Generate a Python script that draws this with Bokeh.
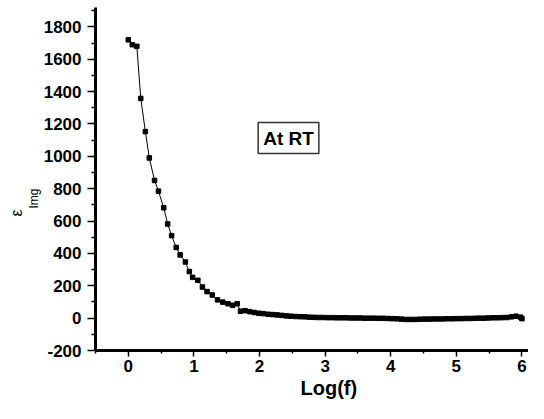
from bokeh.plotting import figure
from bokeh.models import Range1d, FixedTicker, Label, Title
from bokeh.embed import file_html
from bokeh.resources import INLINE

# data
log_f = [0.00, 0.06, 0.13, 0.19, 0.26, 0.32, 0.40, 0.46, 0.54, 0.60, 0.66, 0.73, 0.79,
         0.87, 0.93, 0.98, 1.06, 1.13, 1.20, 1.28, 1.36, 1.44, 1.52, 1.59, 1.66,
         1.71, 1.78, 1.85, 1.92, 1.99, 2.06, 2.13, 2.20, 2.27, 2.34, 2.41, 2.48, 2.55,
         2.62, 2.69, 2.76, 2.83, 2.90, 2.97, 3.04, 3.11, 3.18, 3.25, 3.32, 3.39, 3.46,
         3.53, 3.60, 3.67, 3.74, 3.81, 3.88, 3.95, 4.02, 4.09, 4.16, 4.23, 4.30, 4.37,
         4.44, 4.51, 4.58, 4.65, 4.72, 4.79, 4.86, 4.93, 5.00, 5.07, 5.14, 5.21, 5.28,
         5.35, 5.42, 5.49, 5.56, 5.63, 5.70, 5.77, 5.84, 5.91, 5.98, 6.00]
eps_img = [1720, 1690, 1680, 1358, 1153, 990, 851, 785, 682, 582, 510, 437, 391,
           347, 288, 252, 234, 192, 164, 143, 113, 99, 89, 79, 89,
           43, 46, 40, 35, 30, 28, 24, 22, 20, 17, 14, 12, 10,
           9, 8, 6, 5, 4, 4, 3, 3, 2, 2, 2, 1, 1,
           1, 0, 0, 0, -1, -1, -2, -3, -4, -6, -8, -8, -8,
           -7, -6, -6, -5, -5, -5, -4, -4, -3, -3, -2, -2, -1,
           0, 0, 1, 2, 2, 3, 4, 8, 12, 6, -3]
x_ticks = [0, 1, 2, 3, 4, 5, 6]
x_minor = [-0.5, 0.5, 1.5, 2.5, 3.5, 4.5, 5.5]
y_ticks = [-200, 0, 200, 400, 600, 800, 1000, 1200, 1400, 1600, 1800]
y_minor = [-100, 100, 300, 500, 700, 900, 1100, 1300, 1500, 1700, 1900]
annotation_text = "At RT"
x_title = "Log(f)"
y_title_main = "ε"
y_title_sub = "Img"

W, H = 528, 403
BL, BB, BT = 95, 53, 7
X0, X1 = -0.5, 6.1
Y0, Y1 = -200, 1920
FW = W - BL
FH = H - BB - BT

p = figure(width=W, height=H, output_backend="svg", toolbar_location=None,
           x_range=Range1d(X0, X1), y_range=Range1d(Y0, Y1),
           min_border_left=BL, min_border_right=0, min_border_top=BT, min_border_bottom=BB)
p.outline_line_color = None
p.xgrid.visible = False
p.ygrid.visible = False
p.background_fill_color = "white"

FONT = "Liberation Sans"

for ax, ticks, minor in ((p.xaxis[0], x_ticks, x_minor), (p.yaxis[0], y_ticks, y_minor)):
    ax.ticker = FixedTicker(ticks=ticks, minor_ticks=minor)
    ax.axis_line_width = 3
    ax.axis_line_color = "black"
    ax.major_tick_line_width = 1.5
    ax.minor_tick_line_width = 1.5
    ax.major_tick_in = 0
    ax.minor_tick_in = 0
    ax.major_label_text_font = FONT
    ax.major_label_text_font_style = "bold"
    ax.major_label_text_font_size = "17px"
    ax.major_label_text_color = "black"

p.yaxis.major_label_overrides = {-200: "-200"}
p.yaxis.major_tick_out = 8
p.yaxis.minor_tick_out = 4
p.yaxis.major_label_standoff = 6
p.xaxis.major_tick_out = 6
p.xaxis.minor_tick_out = 3
p.xaxis.major_label_standoff = 3

p.line(log_f, eps_img, line_color="black", line_width=1)
p.scatter(log_f, eps_img, marker="square", size=4.5, fill_color="black", line_color="black")


def dx(sx):
    return X0 + (sx - BL) * (X1 - X0) / FW


def dy(sy):
    return Y1 - (sy - BT) * (Y1 - Y0) / FH


p.add_layout(Label(x=dx(288), y=dy(137.5), text=annotation_text, text_align="center",
                   text_baseline="middle", text_font=FONT, text_font_style="bold",
                   text_font_size="19px", text_color="black", padding=5,
                   border_line_color="#333333", border_line_width=1.5,
                   background_fill_color="white"))

p.add_layout(Title(text=x_title, align="left", offset=205, standoff=0,
                   text_font=FONT, text_font_style="bold", text_font_size="20px",
                   text_color="black"), "below")
p.add_layout(Title(text=y_title_sub, align="left", offset=142, standoff=0,
                   text_font=FONT, text_font_style="normal", text_font_size="12px",
                   text_color="black"), "left")
p.add_layout(Title(text=y_title_main, align="left", offset=134, standoff=0,
                   text_font=FONT, text_font_style="normal", text_font_size="16px",
                   text_color="black"), "left")

open("out.html", "w").write(file_html(p, INLINE))
